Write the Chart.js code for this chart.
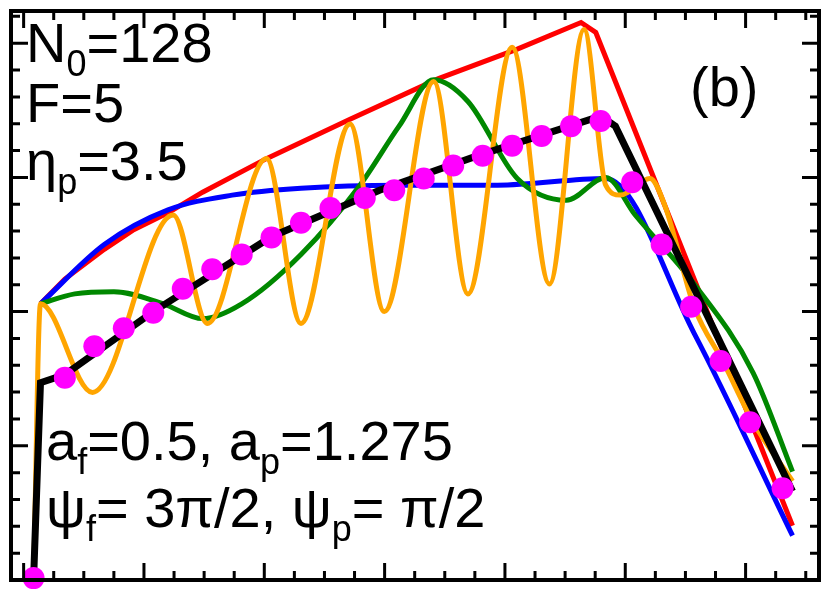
<!DOCTYPE html>
<html>
<head>
<meta charset="utf-8">
<script src="https://cdn.jsdelivr.net/npm/chart.js@4/dist/chart.umd.min.js"></script>
<style>
  body { margin: 0; background: #fff; }
  #box { width: 830px; height: 593px; }
</style>
</head>
<body>
<div id="box"><canvas id="c"></canvas></div>
<script>
// x in minor ticks of the bottom axis, y in minor ticks of the left axis
const redX = [0.56, 1.37, 2.68, 3.66, 4.8, 5.95, 8.07, 10.85, 13.79, 16.41, 18.53, 19.02, 25.56];
const redY = [10.29, 11.21, 12.32, 13.05, 13.68, 14.45, 15.7, 17.17, 18.68, 19.78, 20.77, 20.4, 2.02];

const blueX = [0.56, 2.68, 4.8, 6.93, 9.22, 12.48, 15.75, 19.35, 22.29, 25.56];
const blueY = [10.29, 12.5, 13.79, 14.34, 14.6, 14.71, 14.71, 14.96, 9.19, 1.65];

const greenX = [0.56, 1.7, 3.0, 4.64, 5.95, 7.25, 9.22, 11.18, 12.48, 13.63, 14.77, 16.41, 18.04, 19.35, 20.33, 22.29, 24.25, 25.56];
const greenY = [10.29, 10.66, 10.74, 10.29, 9.74, 10.29, 12.13, 14.71, 16.91, 18.64, 17.83, 14.96, 14.15, 15.0, 13.6, 11.03, 7.72, 4.04];

const orangeX = [0.33, 0.56, 2.29, 4.97, 6.11, 8.07, 9.22, 10.85, 11.99, 13.63, 14.77, 16.24, 17.48, 18.63, 19.35, 19.84, 20.82, 21.31, 22.29, 23.27, 24.25, 25.56];
const orangeY = [0, 10.29, 6.99, 13.6, 9.56, 15.7, 9.56, 16.99, 10.0, 18.57, 10.66, 19.85, 11.03, 20.51, 14.71, 14.34, 14.96, 13.97, 10.18, 8.09, 5.88, 3.68];

const blackX = [0.33, 0.56, 1.37, 4.31, 8.24, 11.83, 15.1, 19.18, 19.67, 25.56];
const blackY = [0, 7.35, 7.65, 10.0, 12.79, 14.52, 15.81, 17.28, 16.91, 3.31];

const dotX = [0.33, 1.37, 2.35, 3.33, 4.31, 5.29, 6.27, 7.25, 8.24, 9.22, 10.2, 11.34, 12.32, 13.3, 14.28, 15.26, 16.24, 17.22, 18.2, 19.18, 20.23, 21.21, 22.19, 23.17, 24.15, 25.23];
const dotY = [0.07, 7.54, 8.71, 9.38, 9.96, 10.85, 11.58, 12.13, 12.76, 13.31, 13.86, 14.23, 14.52, 14.96, 15.44, 15.81, 16.18, 16.54, 16.91, 17.1, 14.82, 12.5, 10.18, 8.16, 5.88, 3.42];

const X_MIN = -0.42, X_MAX = 26.44, Y_MIN = 0, Y_MAX = 21.2;

const pts = (xs, ys) => xs.map((x, i) => ({ x: x, y: ys[i] }));

function lineSet(xs, ys, color, width, smooth) {
    return {
        data: pts(xs, ys),
        borderColor: color,
        borderWidth: width,
        pointRadius: 0,
        fill: false,
        cubicInterpolationMode: smooth ? "monotone" : "default",
        tension: 0
    };
}

// text with subscripts: parts = [[text, isSub], ...]
function drawRuns(ctx, x, y, parts) {
    parts.forEach(([t, sub]) => {
        ctx.font = sub ? "36px 'Liberation Sans', Arial" : "56px 'Liberation Sans', Arial";
        ctx.fillText(t, x, sub ? y + 14 : y);
        x += ctx.measureText(t).width;
    });
}

const frame = {
    id: "frame",
    afterDatasetsDraw(chart) {
        const { ctx, chartArea: a, scales } = chart;
        const xs = scales.x, ys = scales.y;
        ctx.save();
        ctx.strokeStyle = "#000";
        ctx.lineWidth = 3;
        for (let v = 0; v <= 26; v++) {
            const p = xs.getPixelForValue(v);
            const len = v % 4 === 0 ? 17 : 9;
            ctx.beginPath();
            ctx.moveTo(p, a.bottom); ctx.lineTo(p, a.bottom - len);
            ctx.moveTo(p, a.top); ctx.lineTo(p, a.top + len);
            ctx.stroke();
        }
        for (let v = 1; v <= 21; v++) {
            const p = ys.getPixelForValue(v);
            const len = v % 5 === 0 ? 17 : 9;
            ctx.beginPath();
            ctx.moveTo(a.left, p); ctx.lineTo(a.left + len, p);
            ctx.moveTo(a.right, p); ctx.lineTo(a.right - len, p);
            ctx.stroke();
        }
        ctx.lineWidth = 4;
        ctx.strokeRect(a.left, a.top, a.right - a.left, a.bottom - a.top);

        ctx.fillStyle = "#000";
        ctx.textBaseline = "alphabetic";
        drawRuns(ctx, 26, 62, [["N", false], ["0", true], ["=128", false]]);
        drawRuns(ctx, 26, 122, [["F=5", false]]);
        drawRuns(ctx, 26, 180, [["η", false], ["p", true], ["=3.5", false]]);
        drawRuns(ctx, 690, 106, [["(b)", false]]);
        drawRuns(ctx, 46, 460, [["a", false], ["f", true], ["=0.5, a", false], ["p", true], ["=1.275", false]]);
        drawRuns(ctx, 46, 527, [["ψ", false], ["f", true], ["= 3π/2, ψ", false], ["p", true], ["= π/2", false]]);
        ctx.restore();
    }
};

new Chart(document.getElementById("c"), {
    type: "line",
    data: {
        datasets: [
            {
                data: pts(dotX, dotY),
                showLine: false,
                pointRadius: 11,
                pointBackgroundColor: "#ff00ff",
                pointBorderWidth: 0,
                order: 0
            },
            Object.assign(lineSet(blackX, blackY, "#000000", 7, false), { order: 1 }),
            Object.assign(lineSet(orangeX, orangeY, "#ffa500", 5, true), { order: 2 }),
            Object.assign(lineSet(greenX, greenY, "#008800", 5, true), { order: 3 }),
            Object.assign(lineSet(blueX, blueY, "#0000ff", 5, true), { order: 4 }),
            Object.assign(lineSet(redX, redY, "#ff0000", 5, false), { order: 5 })
        ]
    },
    options: {
        responsive: true,
        maintainAspectRatio: false,
        animation: false,
        clip: false,
        layout: { padding: { left: 5, top: 3, right: 3, bottom: 13 } },
        plugins: { legend: { display: false }, tooltip: { enabled: false } },
        scales: {
            x: { type: "linear", min: X_MIN, max: X_MAX, display: false },
            y: { type: "linear", min: Y_MIN, max: Y_MAX, display: false }
        }
    },
    plugins: [frame]
});
</script>
</body>
</html>
